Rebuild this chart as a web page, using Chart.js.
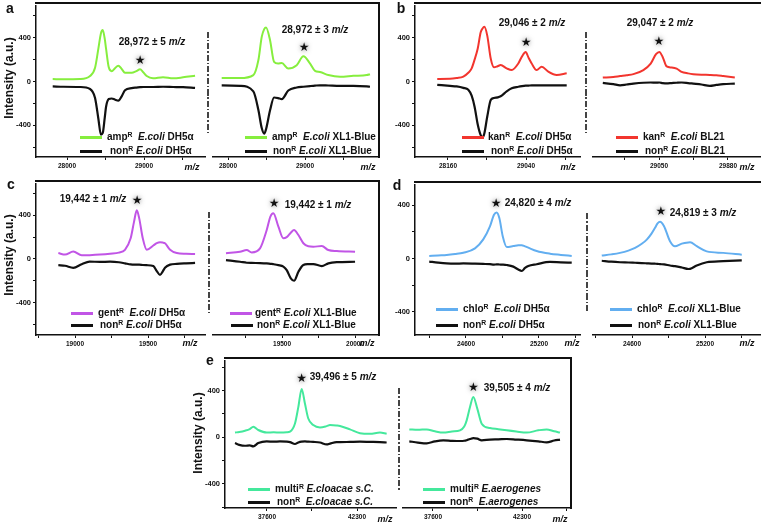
<!DOCTYPE html>
<html>
<head>
<meta charset="utf-8">
<script src="https://cdn.jsdelivr.net/npm/chart.js@4.4.0/dist/chart.umd.min.js"></script>
<style>
body { margin: 0; background: #fff; width: 761px; height: 527px; position: relative; overflow: hidden;
       font-family: "Liberation Sans", Arial, sans-serif; font-weight: bold; color: #111; }
.cv { position: absolute; }
.t { position: absolute; white-space: nowrap; line-height: 1; transform: translate(-50%, -50%); }
.lab { font-size: 14px; }
.ann { font-size: 10px; }
.mz { font-size: 9px; font-style: italic; }
.ytl { font-size: 12px; transform: translate(-50%, -50%) rotate(-90deg); }
.lg { position: absolute; white-space: nowrap; font-size: 10px; line-height: 1; transform: translateY(-50%); }
.ln { position: absolute; height: 3px; width: 22px; margin-top: -1.5px; }
sup { font-size: 0.68em; vertical-align: 0.5em; line-height: 0; }
.fr { position: absolute; background: #111; }
.sep { position: absolute; width: 1.5px;
       background: repeating-linear-gradient(to bottom, #444 0 6px, transparent 6px 8px, #444 8px 9.5px, transparent 9.5px 11.5px); }
</style>
</head>
<body>
<script>
// spectra, one shared m/z list per sub-plot: resistant strain (colour) and non-resistant (black)
const mzA1  = [27814, 27952, 28169, 28299, 28364, 28407, 28440, 28464, 28490, 28507, 28542, 28581, 28620, 28666, 28710, 28753, 28840, 28900, 28948, 28990, 29035, 29117, 29247, 29377, 29507, 29663];
const resA1 = [22, 20, 22, 50, 125, 300, 440, 470, 390, 300, 130, 95, 120, 145, 115, 80, 80, 95, 112, 85, 50, 30, 40, 30, 38, 52];
const nonA1 = [-45, -48, -50, -68, -150, -340, -485, -470, -330, -230, -160, -155, -165, -175, -135, -80, -60, -55, -52, -50, -50, -50, -48, -50, -52, -58];

const mzA2  = [27918, 28156, 28329, 28394, 28438, 28470, 28494, 28546, 28598, 28650, 28698, 28783, 28892, 28979, 29066, 29130, 29195, 29303, 29455, 29628, 29802, 29844];
const resA2 = [20, 20, 47, 180, 390, 460, 475, 360, 165, 150, 155, 105, 135, 215, 150, 85, 75, 47, 32, 40, 47, 55];
const nonA2 = [-45, -50, -100, -265, -430, -480, -440, -270, -155, -160, -170, -92, -65, -58, -52, -48, -45, -47, -50, -50, -55, -58];

const mzB1  = [28039, 28183, 28258, 28333, 28389, 28427, 28460, 28495, 28529, 28550, 28570, 28603, 28642, 28679, 28720, 28754, 28822, 28879, 28953, 28995, 29036, 29070, 29104, 29160, 29217, 29291, 29386, 29499];
const resB1 = [24, 25, 32, 45, 80, 120, 200, 300, 450, 485, 500, 420, 210, 130, 140, 150, 120, 105, 165, 230, 270, 215, 165, 105, 135, 90, 60, 75];
const nonB1 = [-30, -40, -45, -58, -75, -130, -230, -390, -490, -510, -475, -320, -170, -150, -145, -135, -90, -62, -48, -42, -38, -37, -36, -36, -36, -36, -36, -36];

const mzB2  = [28374, 28500, 28582, 28660, 28742, 28862, 28950, 29014, 29054, 29094, 29142, 29202, 29262, 29322, 29400, 29462, 29560, 29662, 29740, 29822, 29962];
const resB2 = [24, 30, 38, 45, 55, 92, 150, 235, 255, 210, 125, 115, 105, 75, 62, 55, 50, 48, 45, 38, 25];
const nonB2 = [-24, -35, -45, -38, -30, -22, -20, -22, -20, -25, -28, -25, -22, -20, -25, -30, -38, -50, -42, -35, -30];

const mzC1  = [18886, 18932, 18988, 19046, 19100, 19171, 19240, 19300, 19342, 19381, 19404, 19423, 19440, 19464, 19491, 19536, 19560, 19582, 19600, 19616, 19651, 19697, 19760, 19822];
const resC1 = [54, 40, 69, 33, 35, 40, 48, 58, 84, 189, 339, 445, 369, 189, 84, 123, 145, 153, 150, 144, 84, 54, 48, 45];
const nonC1 = [-57, -62, -81, -48, -24, -27, -25, -30, -40, -50, -52, -52, -52, -55, -57, -65, -111, -145, -115, -80, -52, -45, -40, -36];

const mzC2  = [19116, 19212, 19258, 19292, 19349, 19395, 19420, 19440, 19475, 19509, 19532, 19560, 19582, 19612, 19646, 19680, 19714, 19772, 19817, 19875, 20000];
const resC2 = [40, 54, 69, 48, 84, 249, 370, 399, 279, 174, 185, 225, 249, 204, 130, 103, 99, 105, 69, 60, 54];
const nonC2 = [-21, -36, -45, -47, -48, -51, -55, -58, -66, -80, -111, -186, -207, -126, -66, -58, -57, -75, -51, -40, -36];

const mzD1  = [24298, 24370, 24441, 24510, 24578, 24674, 24742, 24797, 24830, 24852, 24874, 24902, 24935, 24989, 25030, 25058, 25085, 25112, 25181, 25290, 25380, 25469];
const resD1 = [20, 24, 27, 34, 44, 77, 144, 242, 329, 346, 304, 168, 87, 94, 100, 101, 92, 82, 57, 37, 28, 20];
const nonD1 = [-22, -30, -36, -38, -36, -38, -40, -42, -45, -43, -44, -45, -48, -60, -82, -93, -70, -55, -42, -25, -28, -30];

const mzD2  = [24351, 24430, 24501, 24570, 24625, 24680, 24721, 24760, 24789, 24810, 24830, 24863, 24912, 24953, 25009, 25063, 25077, 25132, 25214, 25350, 25502];
const resD2 = [13, 22, 33, 50, 70, 100, 131, 175, 218, 250, 262, 230, 119, 82, 101, 110, 111, 82, 44, 33, 20];
const nonD2 = [-25, -32, -36, -38, -40, -42, -44, -46, -47, -48, -50, -52, -60, -65, -75, -86, -85, -60, -36, -28, -22];

const mzE1  = [35930, 36150, 36452, 36700, 36885, 37146, 37584, 37950, 38279, 38628, 38801, 39062, 39236, 39411, 39584, 39756, 40017, 40367, 40716, 40889, 41233, 41411, 41933, 42455, 42977, 43499, 43848];
const resE1 = [40, 45, 56, 70, 90, 62, 40, 42, 40, 42, 48, 118, 258, 413, 286, 160, 104, 84, 95, 104, 100, 96, 67, 34, 29, 40, 29];
const nonE1 = [-50, -65, -73, -70, -78, -50, -36, -38, -36, -38, -42, -58, -45, -38, -36, -38, -40, -45, -62, -55, -42, -42, -40, -38, -40, -42, -45];

const mzE2  = [36349, 36800, 37267, 37700, 38144, 38600, 39026, 39250, 39379, 39554, 39728, 39939, 40171, 40610, 41050, 41491, 42000, 42547, 43160, 43603, 44000, 44306];
const resE2 = [56, 52, 56, 40, 29, 38, 48, 80, 132, 244, 328, 231, 104, 67, 58, 48, 38, 29, 48, 56, 40, 29];
const nonE2 = [-45, -55, -62, -45, -36, -40, -42, -40, -35, -25, -17, -22, -36, -30, -28, -25, -30, -36, -45, -53, -38, -30];

// star markers over the marker peak (m/z, intensity)
const starMz  = [28948, 28987, 29040, 29050, 19425, 19445, 24847, 24838, 39411, 39728];
const starVal = [191, 290, 351, 342, 528, 483, 413, 339, 497, 404];

// x tick step per sub-plot (every other tick is labelled); y ticks every 200, labelled every 400
const tickSteps = [500, 500, 440, 415, 250, 250, 300, 300, 2350, 2350];
const yStep = 200;

const GREEN = '#86ee3e', RED = '#f2352e', PURPLE = '#c155e6', BLUE = '#62aef0', TEAL = '#44e89c', BLACK = '#111';

const plots = [
    { box: [36, 3, 205, 157],    mz: mzA1, res: resA1, non: nonA1, color: GREEN,  x: [27597, 29792], y: [-690, 695], yAxis: true },
    { box: [213, 3, 379, 157],   mz: mzA2, res: resA2, non: nonA2, color: GREEN,  x: [27805, 29961], y: [-690, 695], yAxis: false },
    { box: [415, 3, 580, 157],   mz: mzB1, res: resB1, non: nonB1, color: RED,    x: [27788, 29649], y: [-690, 695], yAxis: true },
    { box: [593, 3, 760, 157],   mz: mzB2, res: resB2, non: nonB2, color: RED,    x: [28256, 30265], y: [-690, 695], yAxis: false },
    { box: [36, 181, 205, 335],  mz: mzC1, res: resC1, non: nonC1, color: PURPLE, x: [18733, 19890], y: [-695, 690], yAxis: true },
    { box: [213, 181, 379, 335], mz: mzC2, res: resC2, non: nonC2, color: PURPLE, x: [19027, 20164], y: [-695, 690], yAxis: false },
    { box: [415, 182, 580, 335], mz: mzD1, res: resD1, non: nonD1, color: BLUE,   x: [24181, 25537], y: [-573, 556], yAxis: true },
    { box: [593, 182, 760, 335], mz: mzD2, res: resD2, non: nonD2, color: BLUE,   x: [24279, 25652], y: [-573, 556], yAxis: false },
    { box: [225, 358, 396, 508], mz: mzE1, res: resE1, non: nonE1, color: TEAL,   x: [35408, 44336], y: [-606, 657], yAxis: true },
    { box: [403, 358, 571, 508], mz: mzE2, res: resE2, non: nonE2, color: TEAL,   x: [36016, 44887], y: [-606, 657], yAxis: false }
];

const legendRows = [
    [80, 137, GREEN, 107, 'amp<sup>R</sup>&nbsp; <i>E.coli</i> DH5α'],
    [80, 151, BLACK, 110, 'non<sup>R</sup> <i>E.coli</i> DH5α'],
    [245, 137, GREEN, 272, 'amp<sup>R</sup>&nbsp; <i>E.coli</i> XL1-Blue'],
    [245, 151, BLACK, 273, 'non<sup>R</sup> <i>E.coli</i> XL1-Blue'],
    [462, 137, RED, 488, 'kan<sup>R</sup>&nbsp; <i>E.coli</i> DH5α'],
    [462, 151, BLACK, 491, 'non<sup>R</sup> <i>E.coli</i> DH5α'],
    [616, 137, RED, 643, 'kan<sup>R</sup>&nbsp; <i>E.coli</i> BL21'],
    [616, 151, BLACK, 645, 'non<sup>R</sup> <i>E.coli</i> BL21'],
    [71, 313, PURPLE, 98, 'gent<sup>R</sup>&nbsp; <i>E.coli</i> DH5α'],
    [71, 325, BLACK, 100, 'non<sup>R</sup> <i>E.coli</i> DH5α'],
    [230, 313, PURPLE, 255, 'gent<sup>R</sup> <i>E.coli</i> XL1-Blue'],
    [231, 325, BLACK, 257, 'non<sup>R</sup> <i>E.coli</i> XL1-Blue'],
    [436, 309, BLUE, 463, 'chlo<sup>R</sup>&nbsp; <i>E.coli</i> DH5α'],
    [436, 325, BLACK, 463, 'non<sup>R</sup> <i>E.coli</i> DH5α'],
    [610, 309, BLUE, 637, 'chlo<sup>R</sup>&nbsp; <i>E.coli</i> XL1-Blue'],
    [610, 325, BLACK, 638, 'non<sup>R</sup> <i>E.coli</i> XL1-Blue'],
    [248, 489, TEAL, 275, 'multi<sup>R</sup> <i>E.cloacae s.C.</i>'],
    [248, 502, BLACK, 277, 'non<sup>R</sup>&nbsp; <i>E.cloacae s.C.</i>'],
    [423, 489, TEAL, 450, 'multi<sup>R</sup> <i>E.aerogenes</i>'],
    [423, 502, BLACK, 450, 'non<sup>R</sup>&nbsp; <i>E.aerogenes</i>']
];

const notes = [
    [152, 42, '28,972 ± 5 <i>m/z</i>'], [315, 30, '28,972 ± 3 <i>m/z</i>'],
    [532, 23, '29,046 ± 2 <i>m/z</i>'], [660, 23, '29,047 ± 2 <i>m/z</i>'],
    [93, 199, '19,442 ± 1 <i>m/z</i>'], [318, 205, '19,442 ± 1 <i>m/z</i>'],
    [538, 203, '24,820 ± 4 <i>m/z</i>'], [703, 213, '24,819 ± 3 <i>m/z</i>'],
    [343, 377, '39,496 ± 5 <i>m/z</i>'], [517, 388, '39,505 ± 4 <i>m/z</i>']
];

const mzLabels = [[192, 167], [368, 167], [568, 167], [747, 167], [190, 343], [367, 343], [572, 343], [747, 343], [385, 519], [560, 519]];
const panelLetters = [['a', 10, 8], ['b', 401, 8], ['c', 11, 184], ['d', 397, 185], ['e', 210, 360]];
const yTitles = [[9, 78], [9, 255], [198, 433]];
// [x, y1, y2] dash-dot separators between sub-plots
const separators = [[208, 32, 133], [586, 32, 133], [209, 212, 313], [587, 213, 313], [399, 388, 490]];
// frame: top lines [x1, x2, y], right lines [x, y1, y2]
const frameTops = [[36, 379, 3], [415, 760, 3], [36, 379, 181], [415, 760, 182], [225, 571, 358]];
const frameRights = [[379, 3, 157], [379, 181, 335], [571, 358, 508]];

function addEl(cls, css, html) {
    const el = document.createElement('div');
    el.className = cls;
    el.style.cssText = css;
    if (html) el.innerHTML = html;
    document.body.appendChild(el);
    return el;
}

// ticks on whole multiples of the step (Chart.js would otherwise spread them from min to max)
function stepTicks(step) {
    return scale => {
        const ticks = [];
        for (let v = Math.ceil(scale.min / step) * step; v <= scale.max; v += step) ticks.push({ value: v });
        scale.ticks = ticks;
    };
}

const starPlugin = {
    id: 'peakStar',
    afterDatasetsDraw(chart, args, opts) {
        const { ctx, scales: { x, y } } = chart;
        ctx.save();
        ctx.font = '12px "DejaVu Sans"';
        ctx.textAlign = 'center';
        ctx.textBaseline = 'middle';
        ctx.shadowColor = 'rgba(120,120,120,0.9)';
        ctx.shadowBlur = 5;
        ctx.fillStyle = '#111';
        ctx.fillText('★', x.getPixelForValue(opts.mz), y.getPixelForValue(opts.val));
        ctx.restore();
    }
};

Chart.defaults.font.family = '"Liberation Sans", Arial, sans-serif';
Chart.defaults.color = '#111';

function makePlot(p, i) {
    const padL = 30, padR = 12, padT = 4, padB = 22;
    const w = p.box[2] - p.box[0], h = p.box[3] - p.box[1];
    const cv = document.createElement('canvas');
    cv.className = 'cv';
    cv.width = w + padL + padR;
    cv.height = h + padT + padB;
    cv.style.left = (p.box[0] - padL) + 'px';
    cv.style.top = (p.box[1] - padT) + 'px';
    document.body.appendChild(cv);

    const step = tickSteps[i];
    new Chart(cv, {
        type: 'line',
        data: {
            datasets: [
                { data: p.mz.map((m, k) => ({ x: m, y: p.res[k] })), borderColor: p.color, borderWidth: 2 },
                { data: p.mz.map((m, k) => ({ x: m, y: p.non[k] })), borderColor: BLACK, borderWidth: 2.2 }
            ]
        },
        options: {
            responsive: false,
            animation: false,
            devicePixelRatio: 1,
            layout: { padding: { left: p.yAxis ? 0 : padL, right: padR, top: padT, bottom: 0 } },
            elements: { point: { radius: 0 }, line: { cubicInterpolationMode: 'monotone' } },
            plugins: {
                legend: { display: false },
                tooltip: { enabled: false },
                peakStar: { mz: starMz[i], val: starVal[i] }
            },
            scales: {
                x: {
                    type: 'linear', min: p.x[0], max: p.x[1],
                    afterBuildTicks: stepTicks(step),
                    afterFit: s => { s.height = padB; },
                    border: { display: true, color: BLACK, width: 1.5 },
                    grid: { drawOnChartArea: false, tickLength: 3, color: BLACK, lineWidth: 1 },
                    ticks: {
                        autoSkip: false, maxRotation: 0, padding: 2,
                        font: { size: 6.5, weight: 'bold' },
                        callback: v => Math.round(v / step) % 2 === 0 ? String(Math.round(v)) : ''
                    }
                },
                y: {
                    display: p.yAxis, min: p.y[0], max: p.y[1],
                    afterBuildTicks: stepTicks(yStep),
                    // the hidden y axis of a right-hand sub-plot must take no room
                    afterFit: s => { s.width = p.yAxis ? padL : 0; },
                    border: { display: true, color: BLACK, width: 1.5 },
                    grid: { drawOnChartArea: false, tickLength: 3, color: BLACK, lineWidth: 1 },
                    ticks: {
                        autoSkip: false, padding: 2,
                        font: { size: 7.5, weight: 'bold' },
                        callback: v => Math.round(v / yStep) % 2 === 0 ? String(Math.round(v)) : ''
                    }
                }
            }
        },
        plugins: [starPlugin]
    });
}

plots.forEach(makePlot);

frameTops.forEach(([x1, x2, y]) => addEl('fr', `left:${x1 - 0.75}px;top:${y - 0.75}px;width:${x2 - x1 + 1.5}px;height:1.5px`));
frameRights.forEach(([x, y1, y2]) => addEl('fr', `left:${x - 0.75}px;top:${y1 - 0.75}px;width:1.5px;height:${y2 - y1 + 1.5}px`));
separators.forEach(([x, y1, y2]) => addEl('sep', `left:${x - 0.75}px;top:${y1}px;height:${y2 - y1}px`));

legendRows.forEach(([lx, y, color, tx, html]) => {
    addEl('ln', `left:${lx}px;top:${y}px;background:${color}`);
    addEl('lg', `left:${tx}px;top:${y}px`, html);
});
notes.forEach(([x, y, html]) => addEl('t ann', `left:${x}px;top:${y}px`, html));
mzLabels.forEach(([x, y]) => addEl('t mz', `left:${x}px;top:${y}px`, 'm/z'));
panelLetters.forEach(([s, x, y]) => addEl('t lab', `left:${x}px;top:${y}px`, s));
yTitles.forEach(([x, y]) => addEl('t ytl', `left:${x}px;top:${y}px`, 'Intensity (a.u.)'));
</script>
</body>
</html>
